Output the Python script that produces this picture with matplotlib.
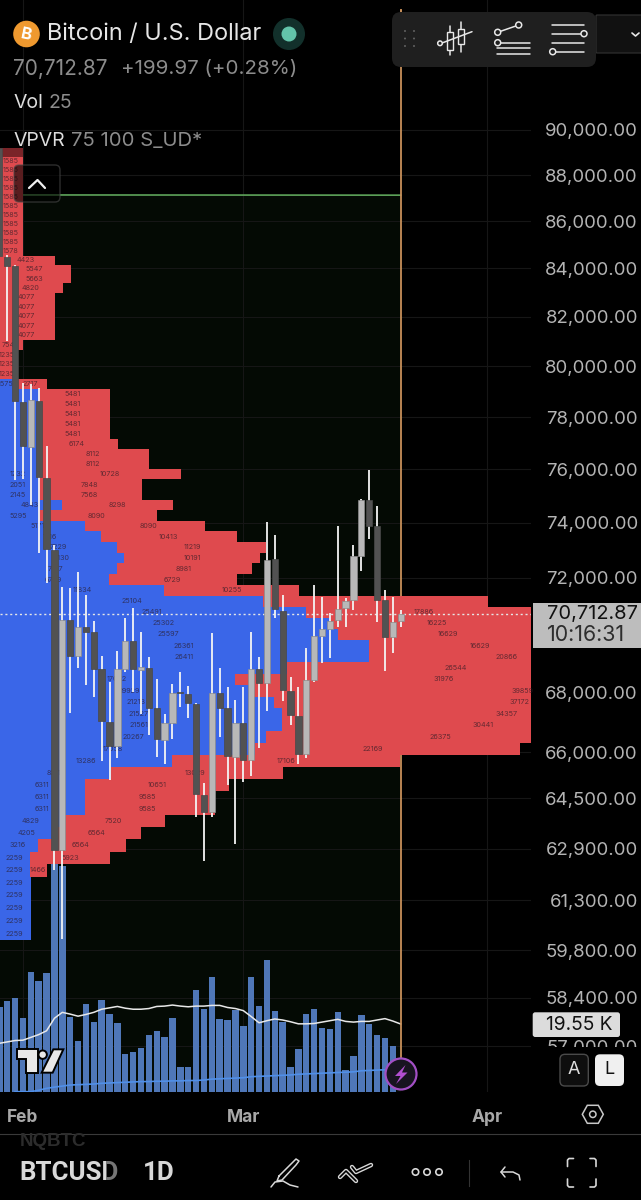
import numpy as np
import matplotlib
matplotlib.use("Agg")
import matplotlib.pyplot as plt
from matplotlib.patches import Circle, FancyBboxPatch, Polygon, Rectangle
from matplotlib.ticker import NullLocator

plt.rcParams["font.family"] = ["Inter", "DejaVu Sans"]

# daily candles, day 0 is 1 March
days = list(range(-31, 21))
highs = [89196, 84550, 84134, 79330, 79290, 79132, 76876, 73176, 71673, 71627, 72213, 71375, 70461,
         69239, 68360, 69420, 70566, 70926, 70076, 69205, 68452, 67270, 68281, 68692, 68213, 67646,
         65000, 70041, 68839, 68190, 67736, 68190, 70087, 69215, 74035, 73544, 71375, 68531, 68180,
         69503, 71734, 71304, 70751, 73887, 71268, 73176, 74870, 75965, 74623, 71555, 71311, 70846]
opens = [89196, 84467, 84092, 78590, 76850, 78630, 75662, 72992, 62858, 70496, 69249, 70262, 70076,
         68794, 67013, 66202, 68794, 69759, 68760, 68839, 67470, 66402, 66970, 68009, 67941, 67603,
         64606, 64072, 67965, 67460, 65851, 66960, 65744, 68784, 68306, 72658, 70821, 68054, 67213,
         65939, 68418, 69934, 70181, 70496, 70916, 71196, 72777, 74833, 73876, 71196, 69899, 70471]
closes = [84509, 84092, 78617, 76876, 78656, 75700, 73029, 62858, 70496, 69249, 70262, 70076, 68794,
          67037, 66202, 68794, 69759, 68794, 68873, 67470, 66435, 66970, 67986, 67965, 67626, 64638,
          64053, 67965, 67460, 65874, 66960, 65744, 68784, 68306, 72633, 70871, 68078, 67237, 65939,
          68418, 69934, 70170, 70471, 70881, 71171, 72777, 74833, 73876, 71196, 69899, 70437, 70712]
lows = [84509, 81006, 75587, 75625, 74649, 72884, 71806, 62240, 60134, 67313, 68839, 68247, 67849,
        65711, 65093, 65819, 68702, 68020, 67270, 66569, 65841, 65614, 66435, 67513, 67147, 63904,
        62518, 63914, 66512, 64930, 63048, 65018, 65234, 66136, 67370, 70577, 67703, 66903, 65614,
        65809, 68360, 69000, 69170, 70262, 70262, 70846, 72249, 73397, 70437, 68736, 69352, 70262]

# volume in thousands and its two moving averages
volumes = [24.5, 26.2, 27.0, 21.4, 34.6, 31.9, 34.2, 66.7, 65.0, 21.7, 14.7, 25.3, 20.0, 26.4, 22.3,
           19.7, 10.8, 11.5, 12.7, 16.3, 17.6, 15.8, 21.3, 7.3, 7.1, 29.2, 24.0, 33.0, 20.9, 20.6,
           23.6, 19.0, 33.1, 24.7, 37.9, 23.2, 20.2, 7.3, 12.5, 22.4, 23.9, 18.5, 18.0, 23.0, 6.3,
           10.3, 22.1, 19.6, 16.4, 15.4, 13.2, 0.1]
vol_ma_fast = [14.0, 14.4, 14.8, 14.9, 15.7, 16.5, 17.6, 21.2, 22.9, 22.4, 21.8, 22.3, 22.9, 23.8,
               24.2, 24.6, 24.1, 23.8, 23.8, 24.0, 24.6, 24.7, 25.0, 24.7, 24.5, 24.7, 24.7, 24.9,
               24.9, 24.3, 24.0, 23.4, 21.7, 19.9, 20.5, 21.0, 20.7, 20.2, 19.6, 19.6, 19.7, 20.1,
               20.5, 20.9, 20.3, 20.1, 20.3, 20.3, 20.7, 21.1, 20.4, 19.55]
vol_ma_slow = [0.1, 0.1, 0.1, 0.5, 1.05, 1.4, 1.7, 2.0, 2.1, 2.2, 2.3, 2.5, 2.6, 2.7, 2.8, 2.9, 3.0,
               3.0, 3.1, 3.1, 3.2, 3.2, 3.3, 3.3, 3.45, 3.7, 3.8, 3.9, 4.0, 4.1, 4.4, 4.5, 4.6, 4.7,
               4.8, 4.9, 5.1, 5.2, 5.3, 5.4, 5.5, 5.6, 5.7, 5.8, 6.1, 6.2, 6.3, 6.4, 6.6]
slow_days = list(range(-29, 20))

# volume profile, 75 rows from the top
row_top = 89196
row_step = 388
profile_total = ([23] * 12 + [54.7, 70.7, 70.7, 63] + [54.7] * 5 + [23, 18, 18, 18, 47] + [110] * 5
                 + [118, 149, 149, 181, 141.7, 141.7, 173, 157, 205, 236.7, 266, 260, 251.7, 236.7,
                    299, 488] + [531] * 12
                 + [520, 400, 283, 228.7, 215, 215, 165.3, 141.3, 125.7, 110, 47] + [31] * 5)
profile_buy = ([0] * 25 + [17] + [39] * 11
               + [61.7, 39, 85.3, 100.7, 117, 124.3, 117, 109.3, 163.7, 263, 306, 330, 337.7, 369,
                  369, 286.7, 235, 252, 274, 282, 282, 266, 255, 172, 111, 85.3, 85.3, 85.3, 65, 57,
                  37.7, 30, 30] + [31] * 5)

label_rows = [1, 2, 3, 4, 5, 6, 7, 8, 9, 10, 11, 12, 13, 14, 15, 16, 17, 18, 19, 20, 21, 22, 23, 24, 25,
              25, 26, 27, 28, 29, 30, 31, 32, 33, 34, 34, 35, 35, 36, 36, 37, 37, 38, 38, 39, 39, 40,
              40, 41, 41, 42, 42, 43, 43, 44, 44, 45, 45, 46, 47, 48, 49, 50, 51, 47, 48, 49, 50, 51,
              52, 53, 54, 55, 56, 57, 58, 53, 54, 55, 56, 57, 58, 59, 59, 60, 60, 61, 61, 62, 62, 63,
              63, 64, 64, 65, 65, 66, 66, 67, 67, 68, 68, 69, 69, 70, 71, 72, 73, 74]
label_text = ["1585"] * 10 + ["1578", "4423", "5547", "5663", "4820", "4077", "4077", "4077", "4077",
              "4077", "754", "1235", "1235", "1235", "1575", "2717", "5481", "5481", "5481", "5481",
              "5481", "6174", "8112", "8112", "1232", "10728", "2051", "7848", "2145", "7568", "4843",
              "8298", "5295", "8090", "5171", "8090", "7116", "10413", "7229", "11219", "7130",
              "10191", "7137", "8981", "6729", "6729", "11834", "10255", "25104", "25491", "25302",
              "25597", "26361", "26411", "17886", "16225", "16629", "16629", "20866", "26544",
              "31976", "39859", "37172", "34357", "30441", "26375", "17052", "19929", "21213",
              "21527", "21561", "20267", "17058", "22169", "13286", "17106", "8311", "13029", "6311",
              "10651", "6311", "9585", "6311", "9585", "4829", "7520", "4205", "6564", "3216", "6564",
              "2259", "5923", "2259", "1466", "2259", "2259", "2259", "2259", "2259"]
label_x = [10.5] * 11 + [26, 34, 34, 30, 26, 26, 26, 26, 26, 8, 7, 7, 7, 6, 30, 73, 73, 73, 73, 73, 77,
           93, 93, 18, 110, 18, 89, 18, 89, 30, 117, 18, 97, 38, 149, 50, 168, 58, 192, 62, 192, 55,
           184, 53, 172, 82, 232, 132, 152, 164, 168, 184, 184, 424, 437, 448, 480, 507, 456, 444,
           522, 519, 507, 483, 440, 117, 130, 136, 139, 139, 133, 113, 373, 86, 286, 54, 195, 42,
           157, 42, 147, 42, 147, 30, 113, 26, 97, 18, 81, 14, 70, 14, 38, 14, 14, 14, 14, 14]

price_ticks = [90000, 88000, 86000, 84000, 82000, 80000, 78000, 76000, 74000, 72000, 68000, 66000,
               64500, 62900, 61300, 59800, 58400, 57000]
month_days = [-28, 0, 31]
month_names = ["Feb", "Mar", "Apr"]
last_price = 70712.87
range_line = 87132

RED = "#df4a4e"
BLUE = "#3a66e8"

fig = plt.figure(figsize=(6.41, 12), dpi=100, facecolor="black")
rect = [0, 108 / 1200, 531 / 641, 1092 / 1200]
xlim = (-30.915, 36.557)
ylim = (55719, 96022)


def layer(z):
    a = fig.add_axes(rect, zorder=z)
    a.set_yscale("log")
    a.set_xlim(xlim)
    a.set_ylim(ylim)
    a.yaxis.set_minor_locator(NullLocator())
    a.set_facecolor("none")
    a.axis("off")
    return a


# grid, price axis and month axis
ax = fig.add_axes(rect, zorder=0)
ax.set_facecolor("black")
ax.set_yscale("log")
ax.set_xlim(xlim)
ax.set_ylim(ylim)
for s in ax.spines.values():
    s.set_visible(False)
ax.yaxis.set_minor_locator(NullLocator())
ax.yaxis.tick_right()
ax.set_yticks(price_ticks, [f"{p:,.2f}" for p in price_ticks])
ax.set_xticks(month_days, month_names)
ax.tick_params(axis="y", length=0, pad=77, labelsize=13.4, labelcolor="#b4b4b4")
ax.tick_params(axis="x", length=0, pad=12, labelsize=12.5, labelcolor="#a8a8a8")
for t in ax.get_yticklabels():
    t.set_ha("right")
for t in ax.get_xticklabels():
    t.set_fontweight("bold")
ax.grid(True, color="#161616", lw=0.8)
ax.set_axisbelow(True)
ax.fill_between([xlim[0], 20], ylim[0], range_line, color="#040a04", lw=0, zorder=0.5)
ax.plot([xlim[0], 20], [range_line, range_line - 10], color="#5ea35a", lw=1.2, zorder=2)

# volume
vol = fig.add_axes(rect, zorder=1)
vol.set_xlim(xlim)
vol.set_ylim(0, 314)
vol.set_facecolor("none")
vol.axis("off")
vol.bar(days, volumes, width=0.82, color="#4f77b8", lw=0)
vol.plot(days, vol_ma_fast, color="#e8e8e8", lw=1.1)
vol.plot(slow_days, vol_ma_slow, color="#4f8fe8", lw=1.2)
vol.plot([20, 20], [10, 311], color="#c8905a", lw=1.3)

# volume profile, on a scale of 531 for the longest row
prof = layer(2)
prof.set_xlim(0, 531)
row_high = row_top - row_step * np.arange(75)
row_low = row_high - row_step
bar_colors = ["#7a2428"] + [RED] * 74
prof.barh(row_low, profile_total, height=row_step, align="edge", color=bar_colors, lw=0,
          antialiased=False)
prof.barh(row_low, profile_buy, height=row_step, align="edge", color=BLUE, lw=0,
          antialiased=False)
prof.set_ylim(ylim)
prof.set_xlim(0, 531)
for r, s, x in zip(label_rows, label_text, label_x):
    prof.text(x, row_high[r] - row_step / 2, s, fontsize=5.2, color="#2a1a24", alpha=0.68,
              ha="center", va="center")

# candles
can = layer(3)
up_col, down_col = "#b8b8b8", "#525252"
can.axhline(last_price, color="#e6e6e6", lw=1.0, ls=(0, (1.5, 2)))
can.vlines(days, lows, highs, color="#f4f4f4", lw=1.3)
tops = np.maximum(opens, closes)
bots = np.minimum(opens, closes)
cols = [up_col if c >= o else down_col for o, c in zip(opens, closes)]
edges = ["#8c8c8c" if c >= o else "#484848" for o, c in zip(opens, closes)]
can.bar(days, tops - bots, bottom=bots, width=0.8, color=cols, edgecolor=edges, lw=0.5, zorder=3)
can.set_ylim(ylim)

# interface chrome in pixel coordinates
ui = fig.add_axes([0, 0, 1, 1], zorder=5)
ui.set_xlim(0, 641)
ui.set_ylim(1200, 0)
ui.set_facecolor("none")
ui.axis("off")


def box(x0, y0, x1, y1, fc, ec="none", lw=0, r=4, z=1, alpha=None):
    ui.add_patch(FancyBboxPatch((x0 + r, y0 + r), x1 - x0 - 2 * r, y1 - y0 - 2 * r,
                                boxstyle=f"round,pad={r},rounding_size={r}", fc=fc, ec=ec, lw=lw,
                                zorder=z, alpha=alpha))


def line(xs, ys, c="#e8e8e8", lw=1.1, z=3):
    ui.plot(xs, ys, color=c, lw=lw, zorder=z, solid_capstyle="round", solid_joinstyle="round")


def ring(x, y, r, c="#e8e8e8", lw=1.1, fc="none", z=4):
    ui.add_patch(Circle((x, y), r, fc=fc, ec=c, lw=lw, zorder=z))


# header
ui.add_patch(Circle((26.5, 34), 13.3, fc="#ef992f", lw=0))
ui.text(26.5, 34.5, "B", color="white", fontsize=12, fontweight="bold", rotation=-12, ha="center", va="center")
ui.text(47, 34, "Bitcoin / U.S. Dollar", color="#e6e6e6", fontsize=16.9, va="center")
ui.add_patch(Circle((289, 34), 16, fc="#12302b", lw=0))
ui.add_patch(Circle((289, 34), 7.5, fc="#63c4aa", lw=0))
ui.text(13, 69, "70,712.87", color="#8c8c8c", fontsize=15, va="center")
ui.text(121, 69, "+199.97 (+0.28%)", color="#8c8c8c", fontsize=14.8, va="center")
ui.text(14, 102.5, "Vol", color="#dedede", fontsize=14, va="center")
ui.text(48, 102.5, "25", color="#8c8c8c", fontsize=14, va="center")
ui.text(14, 141, "VPVR", color="#dedede", fontsize=14, va="center")
ui.text(71, 141, "75 100 S_UD*", color="#8c8c8c", fontsize=14.6, va="center")
box(14, 165, 60, 202, "black", ec="#4a4a4a", lw=1, r=5, alpha=0.6)
line([29, 37.5, 45], [188, 180, 188], c="#f0f0f0", lw=1.6)

# drawing toolbar
box(596, 15, 650, 53, "#111111", ec="#333333", lw=0.8, r=1)
line([632, 635.5, 639], [33, 36, 33], lw=1.2)
box(392, 12, 596, 67, "#1f1f1f", r=9, z=2)
for gx in (405, 414):
    for gy in (31, 38.5, 46):
        ui.add_patch(Circle((gx, gy), 1, fc="#606060", lw=0, zorder=3))
line([450.3, 450.3], [26, 55])
line([461, 461], [22, 52])
ui.add_patch(Rectangle((447.3, 32), 6, 18, fc="#1f1f1f", ec="#e8e8e8", lw=1, zorder=3))
ui.add_patch(Rectangle((458, 29), 6, 15, fc="#1f1f1f", ec="#e8e8e8", lw=1, zorder=3))
line([442, 472], [43, 31.7])
ring(440, 43.3, 2.3, fc="#1f1f1f")
line([497.7, 518.7], [32.3, 25])
line([501, 529.5], [42.7, 42.7])
line([497, 529.5], [48.3, 48.3])
line([497, 529.5], [54.3, 54.3])
ring(518.7, 25, 3, fc="#1f1f1f")
ring(497.7, 32.3, 3, fc="#1f1f1f")
ring(497.7, 42.7, 3, fc="#1f1f1f")
line([552.3, 584.3], [24.7, 24.7])
line([552.3, 581], [33.7, 33.7])
line([552.3, 584.3], [42.7, 42.7])
line([556, 584.3], [51.7, 51.7])
ring(584, 33.7, 3, fc="#1f1f1f")
ring(552.7, 51.7, 3, fc="#1f1f1f")
line([400.7, 400.7], [10, 13], c="#c8905a", lw=1.3, z=1)

# last price tag
ui.add_patch(Rectangle((533, 602.7), 108, 45.5, fc="#bdbdbd", lw=0))
ui.text(637.5, 614.5, "70,712.87", color="#111111", fontsize=14.4, ha="right", va="center")
ui.text(625, 635, "10:16:31", color="#2e2e2e", fontsize=15.4, ha="right", va="center")

# volume tag, lower buttons
ui.add_patch(Rectangle((533, 1047), 108, 40, fc="black", lw=0, zorder=1))
box(532.7, 1012.3, 620, 1037, "#dcdcdc", r=2.5, z=2)
ui.text(579, 1025, "19.55 K", color="#111111", fontsize=13.8, ha="center", va="center", zorder=3)
box(560, 1054.3, 588.3, 1086, "#0e0e0e", ec="#4a4a4a", lw=1, r=5, z=2)
ui.text(574.2, 1070, "A", color="#dedede", fontsize=13, ha="center", va="center", zorder=3)
box(595, 1054.3, 624, 1086, "#f0f0f0", r=5, z=2)
ui.text(609.5, 1070, "L", color="#111111", fontsize=13, ha="center", va="center", zorder=3)

# lightning button
ui.add_patch(Circle((401, 1074), 15.5, fc="#181420", ec="#a24fc4", lw=1.6, zorder=3))
ui.add_patch(Polygon([(405.5, 1065), (395, 1076), (400.5, 1076), (396, 1084), (407.5, 1072.5),
                      (402, 1072.5)], fc="#b24fd0", lw=0, zorder=4))

# logo
lx = lambda u: u / 3
ly = lambda v: 950 + v / 3
logo = {"fc": "#e8e8e8", "ec": "black", "lw": 1.4, "zorder": 3}
ui.add_patch(Polygon([(lx(50), ly(298)), (lx(115), ly(298)), (lx(115), ly(368)), (lx(78), ly(368)),
                      (lx(78), ly(328)), (lx(50), ly(328))], **logo))
ui.add_patch(Circle((lx(128), ly(314)), 4.2, **logo))
ui.add_patch(Polygon([(lx(160), ly(298)), (lx(190), ly(298)), (lx(158), ly(368)), (lx(125), ly(368))], **logo))

# bottom bar
hx, hy = 592.8, 1114.3
hexagon = [(hx - 10.5, hy), (hx - 5.5, hy - 9), (hx + 5.5, hy - 9), (hx + 10.5, hy), (hx + 5.5, hy + 9), (hx - 5.5, hy + 9)]
ui.add_patch(Polygon(hexagon, fc="none", ec="#c8c8c8", lw=1.1))
ring(hx, hy, 3.2, c="#c8c8c8")
ui.plot([0, 641], [1134.3, 1134.3], color="#3a3a3a", lw=0.8)
ui.text(20, 1141, "NQBTC", color="#2c2c2c", fontsize=13.5, fontweight="bold", va="center", family="Liberation Sans")
ui.text(19, 1173, "BTCUSD", color="#d8d8d8", fontsize=18.6, fontweight="bold", va="center", family="Roboto")
ui.add_patch(Rectangle((106, 1155), 16, 36, fc="black", alpha=0.45, lw=0, zorder=4))
ui.text(143, 1173, "1D", color="#d8d8d8", fontsize=18.6, fontweight="bold", va="center", family="Roboto")
line([279, 296, 299, 296, 282, 277, 279], [1176, 1159, 1161, 1165, 1180, 1181, 1176], c="#d8d8d8")
line([271, 275, 283, 290, 298], [1187, 1182, 1181, 1185, 1187], c="#d8d8d8")
line([340, 346, 352, 356], [1177, 1171, 1177, 1181], c="#d8d8d8", lw=3.2)
line([340, 346, 352, 356], [1177, 1171, 1177, 1181], c="black", lw=1.2, z=4)
line([352, 356, 371], [1167, 1172, 1165], c="#d8d8d8", lw=3.2)
line([352, 356, 371], [1167, 1172, 1165], c="black", lw=1.2, z=4)
for dx in (415.5, 427, 439):
    ring(dx, 1172, 3.2, c="#d8d8d8", lw=1.2)
ui.plot([468.5, 468.5], [1160, 1186], color="#333333", lw=0.8)
line([505, 501, 505], [1167, 1172, 1177], c="#d8d8d8")
line([501, 513, 519, 520], [1172, 1172, 1175, 1180], c="#d8d8d8")
for cx, sx in ((567.5, 1), (596, -1)):
    for cy, sy in ((1158.5, 1), (1187, -1)):
        line([cx + 6 * sx, cx + 1.5 * sx, cx, cx], [cy, cy, cy + 1.5 * sy, cy + 8 * sy], c="#d8d8d8", lw=1.2)

fig.savefig("out.png", dpi=100, facecolor="black")
